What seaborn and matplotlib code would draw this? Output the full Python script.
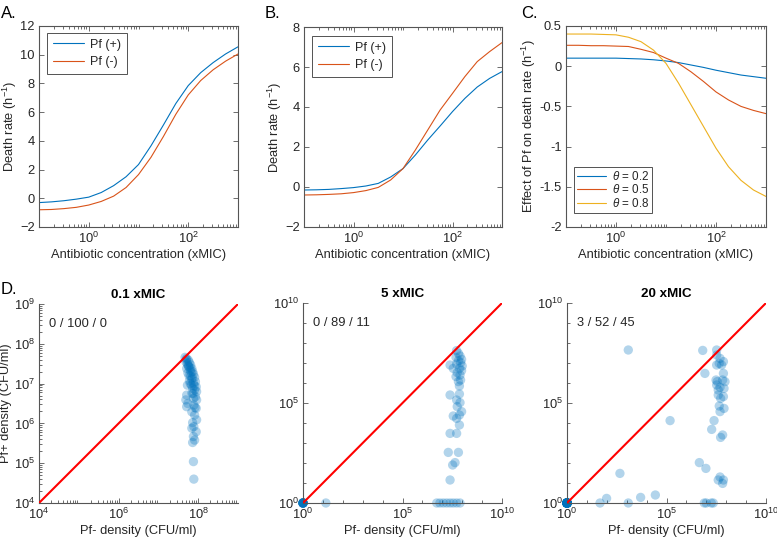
import numpy as np
import pandas as pd
import seaborn as sns
import matplotlib.pyplot as plt
from matplotlib.ticker import NullFormatter

sns.set_theme(style="ticks")
plt.rcParams['font.family'] = ['Liberation Sans', 'DejaVu Sans']
plt.rcParams['mathtext.fontset'] = 'custom'
plt.rcParams['mathtext.rm'] = 'Liberation Sans'
plt.rcParams['mathtext.it'] = 'Liberation Sans:italic'

BLUE = '#0072BD'
ORANGE = '#D95319'
YELLOW = '#EDB120'
AXCOL = '#555555'
FS = 9.3

# antibiotic concentration, log10(xMIC)
log_conc = [-1, -0.75, -0.5, -0.25, 0, 0.25, 0.5, 0.75, 1,
            1.25, 1.5, 1.75, 2, 2.25, 2.5, 2.75, 3]

# panel A: death rate
a_pf_plus = [-0.30, -0.25, -0.17, -0.06, 0.08, 0.40, 0.88, 1.50, 2.35,
             3.65, 5.10, 6.60, 7.85, 8.75, 9.45, 10.05, 10.55]
a_pf_minus = [-0.80, -0.78, -0.72, -0.63, -0.47, -0.22, 0.15, 0.75, 1.65,
              2.85, 4.30, 5.85, 7.20, 8.20, 8.95, 9.55, 10.05]

# panel B: death rate
b_pf_plus = [-0.15, -0.14, -0.12, -0.08, -0.03, 0.05, 0.18, 0.50, 0.92,
             1.60, 2.35, 3.05, 3.77, 4.43, 5.00, 5.43, 5.77]
b_pf_minus = [-0.40, -0.39, -0.37, -0.34, -0.28, -0.18, -0.02, 0.35, 0.92,
              1.85, 2.85, 3.85, 4.68, 5.52, 6.27, 6.77, 7.22]

# panel C: effect of Pf on death rate
c_theta = ['0.2', '0.5', '0.8']
c_02 = [0.10, 0.10, 0.10, 0.10, 0.10, 0.095, 0.09, 0.08, 0.065,
        0.045, 0.015, -0.015, -0.05, -0.08, -0.11, -0.13, -0.15]
c_05 = [0.26, 0.26, 0.255, 0.255, 0.25, 0.245, 0.21, 0.17, 0.10,
        0.035, -0.07, -0.19, -0.32, -0.42, -0.50, -0.55, -0.59]
c_08 = [0.40, 0.40, 0.40, 0.395, 0.39, 0.36, 0.305, 0.20, 0.035,
        -0.21, -0.48, -0.75, -1.02, -1.25, -1.42, -1.54, -1.62]

# panel D-F: final densities (log10 CFU/ml)
d_log_x = [7.67, 7.71, 7.75, 7.69, 7.78, 7.73, 7.81, 7.76, 7.84, 7.71, 7.80, 7.86,
           7.74, 7.88, 7.81, 7.91, 7.84, 7.78, 7.93, 7.88, 7.83, 7.95, 7.86, 7.73,
           7.91, 7.96, 7.84, 7.71, 7.93, 7.88, 7.69, 7.96, 7.74, 7.89, 7.71, 7.95,
           7.84, 7.91, 7.96, 7.86, 7.89, 7.84, 7.95, 7.88, 7.91, 7.86, 7.88, 7.89,
           7.70, 7.75, 7.79, 7.82, 7.77, 7.85, 7.80, 7.90, 7.87, 7.92]
d_log_y = [7.66, 7.63, 7.59, 7.55, 7.53, 7.49, 7.47, 7.43, 7.38, 7.38, 7.34, 7.30,
           7.27, 7.24, 7.19, 7.16, 7.11, 7.07, 7.05, 7.01, 6.96, 6.92, 6.88, 6.96,
           6.84, 6.80, 6.76, 6.71, 6.67, 6.63, 6.59, 6.59, 6.50, 6.46, 6.42, 6.38,
           6.29, 6.21, 6.09, 6.02, 5.92, 5.88, 5.79, 5.67, 5.58, 5.52, 5.04, 4.60,
           7.60, 7.45, 7.40, 7.28, 7.20, 7.15, 7.00, 6.95, 6.75, 6.40]
d_counts = '0 / 100 / 0'

e_log_x = [7.72, 7.81, 7.89, 7.69, 7.97, 7.81, 7.92, 7.72, 7.39, 8.00, 7.86, 7.55,
           7.97, 7.75, 7.89, 7.69, 7.92, 7.81, 7.86, 7.39, 7.86, 7.72, 7.89, 7.75,
           7.97, 7.55, 7.86, 7.72, 7.86, 7.39, 7.72, 7.30, 7.81, 7.64, 7.52, 7.39,
           6.72, 6.88, 7.05, 7.22, 7.39, 7.55, 7.72, 7.89, 1.15]
e_log_y = [7.62, 7.48, 7.35, 7.28, 7.18, 7.12, 7.02, 6.95, 6.90, 6.85, 6.73, 6.73,
           6.62, 6.52, 6.40, 6.32, 6.15, 6.07, 5.85, 5.40, 5.45, 5.15, 5.02, 4.82,
           4.57, 4.35, 4.40, 4.23, 3.90, 3.48, 3.48, 2.53, 2.53, 2.02, 1.90, 1.15,
           0, 0, 0, 0, 0, 0, 0, 0, 0]
e_n_origin = 11
e_counts = '0 / 89 / 11'

f_log_x = [3.08, 6.82, 7.52, 6.93, 5.18, 7.39, 7.27, 7.82, 7.72, 6.65, 6.98, 2.66,
           7.60, 7.69, 7.86, 7.82, 1.99, 3.70, 4.44, 1.66, 3.08, 6.90, 7.00, 7.25,
           7.35, 7.52, 7.69, 7.86, 7.52, 7.77, 7.65, 7.86, 7.82, 7.55, 7.94, 7.52,
           7.69, 7.89, 7.60, 7.86, 7.72, 7.65, 7.89, 7.69, 7.49, 7.60]
f_log_y = [7.65, 7.63, 7.65, 6.48, 4.12, 4.12, 3.68, 3.40, 3.28, 2.02, 1.73, 1.48,
           1.15, 1.30, 1.15, 0.98, 0.23, 0.28, 0.40, 0, 0, 0, 0, 0,
           0, 7.40, 7.23, 7.07, 6.90, 6.90, 6.98, 6.48, 6.15, 6.07, 6.07, 5.90,
           5.78, 5.73, 5.40, 5.32, 5.23, 4.85, 4.73, 4.57, 6.15, 5.65]
f_n_origin = 45
f_counts = '3 / 52 / 45'

W, H = 777, 543
fig = plt.figure(figsize=(W / 100, H / 100), dpi=100)


def add_ax(x0, x1, y0, y1):
    return fig.add_axes([x0 / W, 1 - y1 / H, (x1 - x0) / W, (y1 - y0) / H])


def style_ax(ax, box=True):
    for s in ax.spines.values():
        s.set_color(AXCOL)
        s.set_linewidth(0.8)
    if not box:
        ax.spines['top'].set_visible(False)
        ax.spines['right'].set_visible(False)
    ax.tick_params(which='both', direction='in', color=AXCOL, labelsize=FS,
                   labelcolor='#262626', top=box, right=box, width=0.6)
    ax.tick_params(which='major', length=3.5, pad=3)
    ax.tick_params(which='minor', length=2)


def conc_axis(ax):
    ax.set_xscale('log')
    ax.set_xlim(0.1, 1000)
    ax.set_xticks([1, 100])
    minors = [m * 10.0 ** e for e in range(-1, 3) for m in range(2, 10)] + [10]
    ax.set_xticks(minors, minor=True)
    ax.xaxis.set_minor_formatter(NullFormatter())
    ax.set_xlabel('Antibiotic concentration (xMIC)', fontsize=FS, color='#262626', labelpad=2)


def matlab_legend(ax, loc, anchor, fs, spacing, pad):
    leg = ax.legend(loc=loc, frameon=True, fancybox=False, fontsize=fs,
                    handlelength=2.5, borderpad=pad, labelspacing=spacing,
                    handletextpad=0.5, borderaxespad=0, bbox_to_anchor=anchor)
    leg.get_frame().set_edgecolor('#262626')
    leg.get_frame().set_linewidth(0.7)


conc = [10.0 ** v for v in log_conc]

# ---- A ----
axA = add_ax(39, 238, 26, 227)
dfA = pd.DataFrame({'conc': conc * 2, 'rate': a_pf_plus + a_pf_minus,
                    'grp': ['Pf (+)'] * len(conc) + ['Pf (-)'] * len(conc)})
sns.lineplot(data=dfA, x='conc', y='rate', hue='grp', palette=[BLUE, ORANGE],
             linewidth=0.8, ax=axA)
conc_axis(axA)
axA.set_ylim(-2, 12)
axA.set_yticks(range(-2, 13, 2))
axA.set_ylabel('Death rate (h$^{-1}$)', fontsize=FS, color='#262626', labelpad=1)
style_ax(axA)
matlab_legend(axA, 'upper left', (0.04, 0.965), 9, 0.45, 0.45)

# ---- B ----
axB = add_ax(304, 502, 27, 227)
dfB = pd.DataFrame({'conc': conc * 2, 'rate': b_pf_plus + b_pf_minus,
                    'grp': ['Pf (+)'] * len(conc) + ['Pf (-)'] * len(conc)})
sns.lineplot(data=dfB, x='conc', y='rate', hue='grp', palette=[BLUE, ORANGE],
             linewidth=0.8, ax=axB)
conc_axis(axB)
axB.set_ylim(-2, 8)
axB.set_yticks(range(-2, 9, 2))
axB.set_ylabel('Death rate (h$^{-1}$)', fontsize=FS, color='#262626', labelpad=1)
style_ax(axB)
matlab_legend(axB, 'upper left', (0.04, 0.955), 9, 0.45, 0.45)

# ---- C ----
axC = add_ax(566, 766, 26, 227)
dfC = pd.DataFrame({'conc': conc * 3, 'effect': c_02 + c_05 + c_08,
                    'grp': ['$\\theta$ = ' + t for t in c_theta for _ in conc]})
sns.lineplot(data=dfC, x='conc', y='effect', hue='grp', palette=[BLUE, ORANGE, YELLOW],
             linewidth=0.8, ax=axC)
conc_axis(axC)
axC.set_ylim(-2, 0.5)
axC.set_yticks([-2, -1.5, -1, -0.5, 0, 0.5])
axC.set_yticklabels(['-2', '-1.5', '-1', '-0.5', '0', '0.5'])
axC.set_ylabel('Effect of Pf on death rate (h$^{-1}$)', fontsize=FS, color='#262626', labelpad=1)
style_ax(axC)
matlab_legend(axC, 'lower left', (0.04, 0.07), 8.4, 0.05, 0.25)

# ---- D, E, F ----
def density_panel(ax, lx, ly, n_origin, lo, hi, majors, title, counts, ylabel):
    xs = [10.0 ** v for v in lx] + [1.0] * n_origin
    ys = [10.0 ** v for v in ly] + [1.0] * n_origin
    ax.plot([10.0 ** lo, 10.0 ** hi], [10.0 ** lo, 10.0 ** hi], color='red', lw=1.5, zorder=3)
    sns.scatterplot(x=xs, y=ys, color=BLUE, alpha=0.3, s=45, edgecolor='none',
                    ax=ax, zorder=2, clip_on=False)
    ax.set_xscale('log')
    ax.set_yscale('log')
    ax.set_xlim(10.0 ** lo, 10.0 ** hi)
    ax.set_ylim(10.0 ** lo, 10.0 ** hi)
    ax.set_xticks([10.0 ** m for m in majors[0]])
    ax.set_yticks([10.0 ** m for m in majors[1]])
    if hi - lo > 6:
        mins = [10.0 ** e for e in range(lo, hi + 1)]
    else:
        mins = [m * 10.0 ** e for e in range(lo, hi) for m in range(2, 10)]
    ax.set_xticks(mins, minor=True)
    ax.set_yticks(mins, minor=True)
    ax.xaxis.set_minor_formatter(NullFormatter())
    ax.yaxis.set_minor_formatter(NullFormatter())
    style_ax(ax, box=False)
    ax.set_title(title, fontsize=FS + 0.3, fontweight='bold', color='black', pad=4)
    ax.text(0.05, 0.885, counts, transform=ax.transAxes, fontsize=FS, color='#262626')
    ax.set_xlabel('Pf- density (CFU/ml)', fontsize=FS, color='#262626', labelpad=2)
    if ylabel:
        ax.set_ylabel('Pf+ density (CFU/ml)', fontsize=FS, color='#262626', labelpad=1)


axD = add_ax(39, 238, 304, 503)
density_panel(axD, d_log_x, d_log_y, 0, 4, 9, ([4, 6, 8], [4, 5, 6, 7, 8, 9]),
              '0.1 xMIC', d_counts, True)
axE = add_ax(303, 502, 303, 503)
density_panel(axE, e_log_x, e_log_y, e_n_origin, 0, 10, ([0, 5, 10], [0, 5, 10]),
              '5 xMIC', e_counts, False)
axF = add_ax(567, 766, 303, 503)
density_panel(axF, f_log_x, f_log_y, f_n_origin, 0, 10, ([0, 5, 10], [0, 5, 10]),
              '20 xMIC', f_counts, False)

for lab, x, y in [('A.', 1, 13), ('B.', 265, 13), ('C.', 521, 13), ('D.', 1, 290)]:
    fig.text(x / W, 1 - y / H, lab, fontsize=12, color='black', va='center', ha='left')

fig.savefig('out.png', dpi=100)
